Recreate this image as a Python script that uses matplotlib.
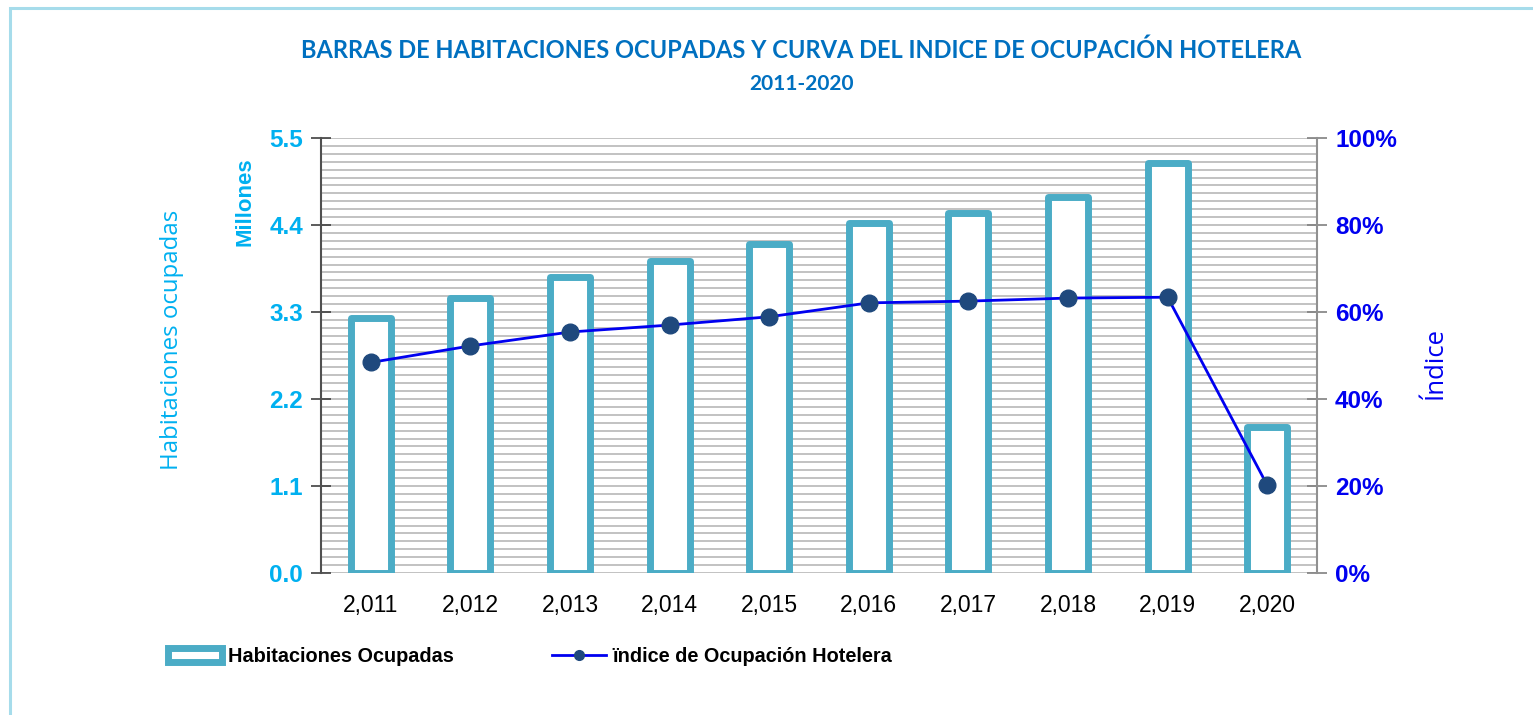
import matplotlib
import numpy as np

matplotlib.use('Agg')
import matplotlib.pyplot as plt
from matplotlib.lines import Line2D
from matplotlib.patches import Rectangle
from matplotlib.ticker import FixedLocator, FuncFormatter

years = ['2,011', '2,012', '2,013', '2,014', '2,015', '2,016', '2,017', '2,018', '2,019', '2,020']
habitaciones = [3.22, 3.48, 3.74, 3.95, 4.16, 4.43, 4.55, 4.76, 5.19, 1.85]  # millones
indice = [48.4, 52.2, 55.4, 57.0, 58.9, 62.1, 62.5, 63.2, 63.4, 20.2]  # %
left_ticks = [0.0, 1.1, 2.2, 3.3, 4.4, 5.5]
right_ticks = [0, 20, 40, 60, 80, 100]

bar_edge = '#4BACC6'
cyan = '#00B0F0'
blue = '#0000F0'
title_blue = '#0070C0'

plt.rcParams['font.family'] = ['Liberation Sans', 'DejaVu Sans']

figure = plt.figure(figsize=(15.33, 7.15), dpi=100)
axis = figure.add_axes([321 / 1533, 1 - 573 / 715, 996 / 1533, 435 / 715])
x = np.arange(len(years))

# fine horizontal grid every 0.1 million
for value in np.arange(0, 5.5001, 0.1):
    axis.axhline(value, color='#BDBDBD', linewidth=1.3, zorder=0)

axis.bar(x, habitaciones, width=0.40, facecolor='white', edgecolor=bar_edge,
         linewidth=5, joinstyle='round', zorder=2)
axis.set_xlim(-0.5, len(years) - 0.5)
axis.set_ylim(0, 5.5)
axis.set_xticks(x)
axis.set_xticklabels(years, fontsize=16.5)
axis.tick_params(axis='x', length=0, pad=15)
axis.yaxis.set_major_locator(FixedLocator(left_ticks))
axis.yaxis.set_major_formatter(FuncFormatter(lambda v, _: f'{v:.1f}'))
axis.tick_params(axis='y', direction='inout', length=14, width=1.2, color='#404040',
                 labelsize=17.5, labelcolor=cyan, pad=6)
for label in axis.get_yticklabels():
    label.set_fontweight('bold')
for side in ['top', 'bottom', 'right']:
    axis.spines[side].set_visible(False)
axis.spines['left'].set_color('#505050')
axis.spines['left'].set_linewidth(1.5)

secondary = axis.twinx()
secondary.plot(x, indice, color=blue, linewidth=2, marker='o', markersize=12,
               markerfacecolor='#1F497D', markeredgecolor='#1F497D', zorder=3)
secondary.set_ylim(0, 100)
secondary.yaxis.set_major_locator(FixedLocator(right_ticks))
secondary.yaxis.set_major_formatter(FuncFormatter(lambda v, _: f'{v:.0f}%'))
secondary.tick_params(axis='y', direction='inout', length=14, width=1.2, color='#808080',
                      labelsize=17.5, labelcolor=blue, pad=6)
for label in secondary.get_yticklabels():
    label.set_fontweight('bold')
for side in ['top', 'bottom', 'left']:
    secondary.spines[side].set_visible(False)
secondary.spines['right'].set_color('#909090')
secondary.spines['right'].set_linewidth(1.5)

figure.text(245 / 1533, 1 - 202 / 715, 'Millones', rotation=90, color=cyan,
            fontsize=16, fontweight='bold', ha='center', va='center')
figure.text(172 / 1533, 1 - 340 / 715, 'Habitaciones ocupadas', rotation=90, color=cyan,
            fontsize=17.3, ha='center', va='center', family=['Open Sans', 'DejaVu Sans'])
figure.text(1435 / 1533, 1 - 363 / 715, 'Índice', rotation=90, color=blue,
            fontsize=18.5, ha='center', va='center', family=['Open Sans', 'DejaVu Sans'])

figure.text(801 / 1533, 1 - 50 / 715,
            'BARRAS DE HABITACIONES OCUPADAS Y CURVA DEL INDICE DE OCUPACIÓN HOTELERA',
            color=title_blue, fontsize=17, fontweight='bold', ha='center', va='center',
            family=['Lato', 'DejaVu Sans'])
figure.text(801 / 1533, 1 - 84 / 715, '2011-2020', color=title_blue, fontsize=15,
            fontweight='bold', ha='center', va='center', family=['Lato', 'DejaVu Sans'])

handles = [
    Rectangle((0, 0), 1, 1, facecolor='white', edgecolor=bar_edge, linewidth=5),
    Line2D([], [], color=blue, linewidth=2, marker='o', markersize=7,
           markerfacecolor='#1F497D', markeredgecolor='#1F497D'),
]
figure.legend(handles, ['Habitaciones Ocupadas', 'ïndice de Ocupación Hotelera'],
              loc='center left', bbox_to_anchor=(150 / 1533, 1 - 656 / 715),
              ncol=2, frameon=False, handlelength=2.75, handletextpad=0.3,
              columnspacing=4.9, prop={'size': 14.3, 'weight': 'bold'})

figure.patches.append(Rectangle((10 / 1533, -0.05), 1.1, 1.05 - 8 / 715,
                                transform=figure.transFigure, fill=False,
                                edgecolor='#A6DCEB', linewidth=2.2, zorder=0))

figure.savefig('out.png', dpi=100)
plt.close(figure)
